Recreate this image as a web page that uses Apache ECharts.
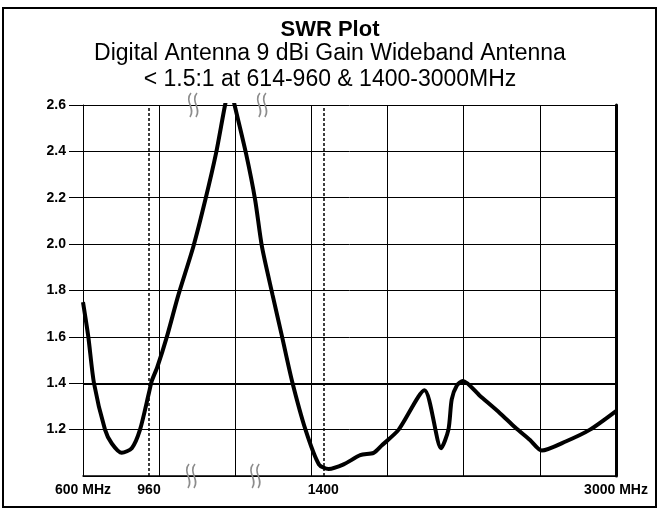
<!DOCTYPE html>
<html>
<head>
<meta charset="utf-8">
<script src="https://cdn.jsdelivr.net/npm/echarts@6/dist/echarts.min.js"></script>
<style>
  html, body { margin: 0; padding: 0; background: #fff; }
  #chart { width: 660px; height: 512px; }
</style>
</head>
<body>
<div id="chart"></div>
<script>
// ---- data ----
const TITLE = 'SWR Plot';
const SUBTITLE_1 = 'Digital Antenna 9 dBi Gain Wideband Antenna';
const SUBTITLE_2 = '< 1.5:1 at 614-960 & 1400-3000MHz';

const FREQ_LABELS = [600, 960, 1400, 3000];
const FREQ_LABEL_TEXT = ['600 MHz', '960', '1400', '3000 MHz'];
const BAND_EDGES = [960, 1400];          // dashed band-edge lines
const SWR_LIMIT = 1.4;                   // heavy reference line
const BREAK_MARKS_TOP = [1071, 1245];    // axis-break symbols (MHz)
const BREAK_MARKS_BOTTOM = [1066, 1228];

const freqMHz = [600, 629, 660, 720, 757, 811, 866, 911, 960, 967, 981, 1005, 1034, 1072, 1102, 1129, 1152, 1164,
  1176, 1205, 1228, 1245, 1272, 1296, 1321, 1355, 1389, 1429, 1511, 1602, 1675, 1717, 1812, 1953, 2044, 2084,
  2102, 2130, 2163, 2257, 2367, 2448, 2530, 2594, 2728, 2858, 3000];
const swr = [1.75, 1.60, 1.40, 1.20, 1.14, 1.10, 1.12, 1.20, 1.36, 1.41, 1.47, 1.60, 1.78, 1.99, 2.19, 2.39, 2.60, 2.69,
  2.60, 2.39, 2.19, 1.99, 1.78, 1.60, 1.41, 1.20, 1.05, 1.03, 1.05, 1.09, 1.10, 1.13, 1.20, 1.37, 1.12, 1.20,
  1.33, 1.39, 1.41, 1.345, 1.27, 1.21, 1.155, 1.11, 1.15, 1.20, 1.28];

// ---- broken frequency scale (MHz -> grid divisions) ----
const SCALE_FREQ = [600, 960, 1400, 3000];
const SCALE_DIV = [0, 0.867, 3.156, 7];
function freqToDiv(f) {
  for (let i = 0; i < SCALE_FREQ.length - 1; i++) {
    if (f <= SCALE_FREQ[i + 1] || i === SCALE_FREQ.length - 2) {
      const t = (f - SCALE_FREQ[i]) / (SCALE_FREQ[i + 1] - SCALE_FREQ[i]);
      return SCALE_DIV[i] + t * (SCALE_DIV[i + 1] - SCALE_DIV[i]);
    }
  }
}

const chart = echarts.init(document.getElementById('chart'), null, { renderer: 'canvas' });
const FONT = '"Liberation Sans", Arial, sans-serif';

const option = {
  animation: false,
  backgroundColor: '#fff',
  title: [
    { text: TITLE, left: 'center', top: 18, padding: 0,
      textStyle: { fontFamily: FONT, fontSize: 22, fontWeight: 'bold', color: '#000', lineHeight: 24 } },
    { text: SUBTITLE_1, left: 'center', top: 42, padding: 0,
      textStyle: { fontFamily: FONT, fontSize: 23, fontWeight: 'normal', color: '#000', lineHeight: 24 } },
    { text: SUBTITLE_2, left: 'center', top: 68, padding: 0,
      textStyle: { fontFamily: FONT, fontSize: 23, fontWeight: 'normal', color: '#000', lineHeight: 24 } }
  ],
  grid: { left: 83, right: 44, top: 105, bottom: 36, containLabel: false },
  xAxis: {
    type: 'value', min: 0, max: 7, interval: 1,
    axisLine: { show: true, onZero: false, lineStyle: { color: '#000', width: 1.5 } },
    axisTick: { show: false },
    splitLine: { show: true, lineStyle: { color: '#000', width: 1 } },
    axisLabel: {
      show: true,
      customValues: FREQ_LABELS.map(freqToDiv),
      margin: 7,
      fontFamily: FONT, fontSize: 14, fontWeight: 'bold', color: '#000',
      formatter: function (v) {
        for (let i = 0; i < FREQ_LABELS.length; i++) {
          if (Math.abs(freqToDiv(FREQ_LABELS[i]) - v) < 1e-6) return FREQ_LABEL_TEXT[i];
        }
        return '';
      }
    }
  },
  yAxis: [
    {
      type: 'value', min: 1, max: 2.6, interval: 0.2, position: 'left',
      axisLine: { show: true, lineStyle: { color: '#000', width: 1 } },
      axisTick: { show: true, inside: false, length: 14, lineStyle: { color: '#000', width: 1 } },
      splitLine: { show: true, lineStyle: { color: '#000', width: 1 } },
      axisLabel: {
        showMinLabel: false, margin: 17,
        fontFamily: FONT, fontSize: 14, fontWeight: 'bold', color: '#000',
        formatter: function (v) { return v.toFixed(1); }
      }
    },
    {
      type: 'value', min: 1, max: 2.6, interval: 0.2, position: 'right',
      axisLine: { show: true, lineStyle: { color: '#000', width: 3 } },
      axisTick: { show: false }, axisLabel: { show: false }, splitLine: { show: false }
    }
  ],
  series: [{
    type: 'line',
    data: freqMHz.map((f, i) => [freqToDiv(f), swr[i]]),
    smooth: 0.25,
    symbol: 'none',
    clip: true,
    lineStyle: { color: '#000', width: 4 },
    z: 5,
    markLine: {
      silent: true, symbol: 'none', label: { show: false }, animation: false,
      data: [
        { yAxis: SWR_LIMIT, lineStyle: { color: '#000', width: 2, type: 'solid' } },
        ...BAND_EDGES.map(f => ({ xAxis: freqToDiv(f), lineStyle: { color: '#000', width: 1.5, type: [3, 2] } }))
      ]
    }
  }]
};
chart.setOption(option);

// axis-break squiggles and the outer frame
function squiggle(f, yVal) {
  const p = chart.convertToPixel({ gridIndex: 0 }, [freqToDiv(f), yVal]);
  const cx = p[0], cy = p[1];
  return [-3, 3].map(dx => ({
    type: 'bezierCurve',
    shape: { x1: cx + dx + 1, y1: cy - 12, cpx1: cx + dx - 6, cpy1: cy - 4, cpx2: cx + dx + 6, cpy2: cy + 4, x2: cx + dx, y2: cy + 12 },
    style: { stroke: '#8c8c8c', lineWidth: 1.6, fill: null },
    z: 100
  }));
}
const graphics = [
  { type: 'rect', shape: { x: 3, y: 8, width: 653, height: 499 },
    style: { stroke: '#000', lineWidth: 2, fill: null }, z: 100 }
];
BREAK_MARKS_TOP.forEach(f => graphics.push(...squiggle(f, 2.6)));
BREAK_MARKS_BOTTOM.forEach(f => graphics.push(...squiggle(f, 1.0)));
chart.setOption({ graphic: graphics });
</script>
</body>
</html>
